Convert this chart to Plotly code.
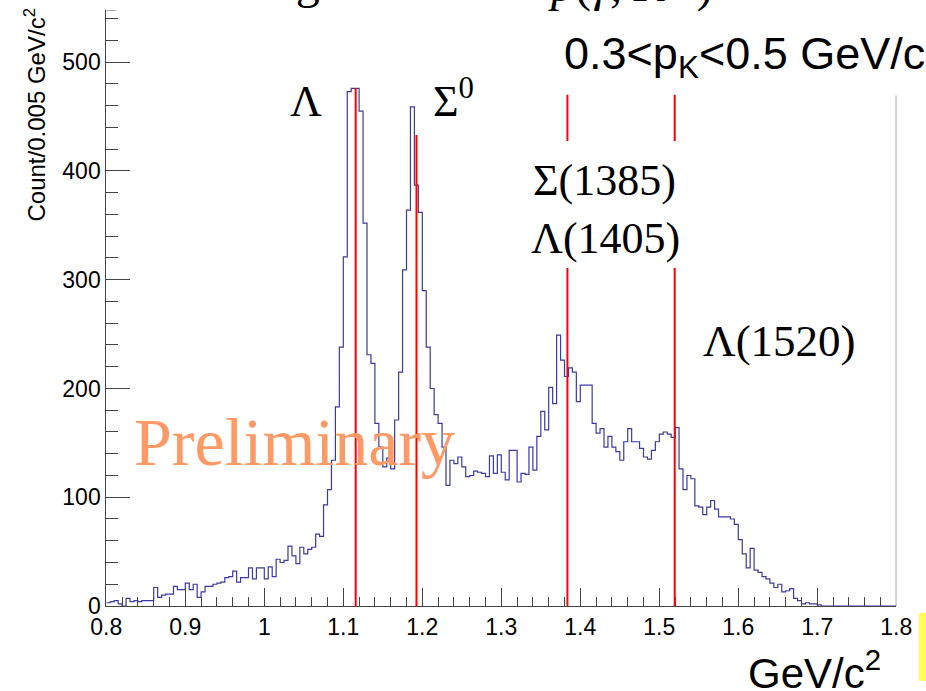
import plotly.graph_objects as go

W, H = 926, 691

# Missing-mass histogram: 200 bins of 0.005 GeV/c^2 between 0.8 and 1.8
bin_low = 0.8
bin_width = 0.005
counts = [
    3, 4, 5, 2, 0, 7, 4, 5, 4, 5,            # 0.80 - 0.85
    5, 5, 17, 8, 10, 11, 11, 18, 15, 15,     # 0.85 - 0.90
    21, 15, 20, 8, 13, 18, 18, 20, 21, 22,   # 0.90 - 0.95
    26, 27, 32, 22, 26, 26, 35, 25, 35, 35,  # 0.95 - 1.00
    25, 36, 27, 43, 40, 42, 55, 46, 39, 54,  # 1.00 - 1.05
    48, 52, 54, 66, 64, 93, 107, 134, 183, 238,      # 1.05 - 1.10
    321, 473, 476, 476, 455, 352, 231, 223, 168, 146,  # 1.10 - 1.15
    128, 136, 126, 171, 215, 309, 364, 459, 387, 362,  # 1.15 - 1.20
    290, 238, 200, 176, 168, 146, 111, 134, 131, 137,  # 1.20 - 1.25
    128, 119, 120, 124, 123, 122, 119, 138, 122, 139,  # 1.25 - 1.30
    123, 116, 143, 143, 114, 122, 121, 146, 125, 156,  # 1.30 - 1.35
    179, 162, 201, 186, 249, 226, 211, 219, 215, 188,  # 1.35 - 1.40
    203, 203, 203, 168, 159, 163, 146, 156, 146, 142,  # 1.40 - 1.45
    134, 151, 163, 151, 151, 145, 137, 135, 143, 151,  # 1.45 - 1.50
    158, 160, 158, 155, 164, 126, 107, 120, 117, 92,   # 1.50 - 1.55
    91, 84, 91, 97, 89, 82, 82, 82, 80, 75,            # 1.55 - 1.60
    61, 48, 35, 53, 33, 31, 27, 25, 21, 17,            # 1.60 - 1.65
    20, 13, 14, 16, 7, 5, 2, 3, 2, 2,                  # 1.65 - 1.70
    1, 0, 0, 0, 0, 0, 0, 0, 0, 0,                      # 1.70 - 1.75
    0, 0, 0, 0, 0, 0, 0, 0, 0, 0,                      # 1.75 - 1.80
]

# Hyperon masses marked with red lines (GeV/c^2) and how high each line reaches
line_masses = [1.11568, 1.19264, 1.3837, 1.5195]
line_tops = [476, 433, 470, 470]

x_range = [0.8, 1.8]
y_range = [0, 548]

edges = [round(bin_low + i * bin_width, 4) for i in range(len(counts) + 1)]
step_y = counts + [counts[-1]]

SANS = "Liberation Sans, Arial, sans-serif"
SERIF = "Liberation Serif, Times New Roman, serif"


def px(x):
    return x / W


def py(y):
    return 1 - y / H


fig = go.Figure()
fig.add_trace(go.Scatter(
    x=edges, y=step_y, mode="lines",
    line=dict(shape="hv", color="#3a3aa6", width=1.2),
    hoverinfo="skip", showlegend=False,
))

shapes = []
for m, top in zip(line_masses, line_tops):
    shapes.append(dict(type="line", xref="x", yref="y", x0=m, x1=m, y0=0, y1=top,
                       line=dict(color="#ff0000", width=2), layer="above"))
# white label box that hides the middle of the two right-hand lines
shapes.append(dict(type="rect", xref="paper", yref="paper",
                   x0=px(522), x1=px(690), y0=py(268), y1=py(141),
                   fillcolor="white", line=dict(width=0), layer="above"))
# right edge of the frame
shapes.append(dict(type="line", xref="x", yref="y", x0=1.8, x1=1.8, y0=0, y1=469.5,
                   line=dict(color="#444444", width=1), layer="above"))
# stub of the top edge of the frame
shapes.append(dict(type="line", xref="x", yref="y", x0=0.8, x1=0.8128, y0=548, y1=548,
                   line=dict(color="#555555", width=1), layer="above"))
# yellow marker strip at the lower right
shapes.append(dict(type="rect", xref="paper", yref="paper",
                   x0=px(919), x1=px(926), y0=py(681), y1=py(613),
                   fillcolor="#ffff55", line=dict(width=0), layer="above"))

annotations = [
    dict(text="Count/0.005 GeV/c<sup>2</sup>", x=px(35), y=py(7), xanchor="center",
         yanchor="top", textangle=-90, font=dict(family=SANS, size=24, color="black")),
    dict(text="Λ", x=px(306), y=py(101), font=dict(family=SERIF, size=44, color="black")),
    dict(text="Σ<sup>0</sup>", x=px(453), y=py(98), font=dict(family=SERIF, size=44, color="black")),
    dict(text="0.3<p<sub>K</sub><0.5 GeV/c", x=px(562), y=py(57), xanchor="left",
         font=dict(family=SANS, size=45, color="black")),
    dict(text="Σ(1385)", x=px(604), y=py(180), font=dict(family=SERIF, size=44, color="black")),
    dict(text="Λ(1405)", x=px(605), y=py(238), font=dict(family=SERIF, size=44, color="black")),
    dict(text="Λ(1520)", x=px(779), y=py(341), font=dict(family=SERIF, size=45, color="black")),
    dict(text="Preliminary", x=px(294), y=py(442), font=dict(family=SERIF, size=68, color="#ff9a66")),
    dict(text="GeV/c<sup>2</sup>", x=px(814), y=py(670), font=dict(family=SANS, size=42, color="black")),
    dict(text="Missing", x=px(322), y=py(-19), xanchor="right",
         font=dict(family=SERIF, size=48, color="black")),
    dict(text="<i>p</i>(<i>γ</i>, <i>K</i><sup>+</sup> )", x=px(546), y=py(-19), xanchor="left",
         font=dict(family=SERIF, size=48, color="black")),
]
for a in annotations:
    a.setdefault("xref", "paper")
    a.setdefault("yref", "paper")
    a.setdefault("showarrow", False)
    a.setdefault("xanchor", "center")
    a.setdefault("yanchor", "middle")

axis_line = "#444444"
fig.update_layout(
    width=W, height=H,
    margin=dict(l=0, r=0, t=0, b=0, autoexpand=False),
    paper_bgcolor="white", plot_bgcolor="white",
    shapes=shapes, annotations=annotations,
    xaxis=dict(
        domain=[px(106.3), px(896.3)], range=x_range, automargin=False,
        showline=True, linecolor=axis_line, linewidth=1, mirror=False,
        showgrid=False, zeroline=False,
        ticks="inside", ticklen=18, tickcolor=axis_line, tickwidth=1,
        tick0=0.8, dtick=0.1,
        minor=dict(ticks="inside", ticklen=9, dtick=0.02, tickcolor=axis_line, showgrid=False),
        tickfont=dict(family=SANS, size=23, color="black"),
        anchor="y",
    ),
    yaxis=dict(
        domain=[py(606), py(10)], range=y_range, automargin=False,
        showline=True, linecolor=axis_line, linewidth=1,
        showgrid=False, zeroline=False,
        ticks="inside", ticklen=24, tickcolor=axis_line, tickwidth=1,
        tick0=0, dtick=100,
        minor=dict(ticks="inside", ticklen=12, dtick=20, tickcolor=axis_line, showgrid=False),
        tickfont=dict(family=SANS, size=23, color="black"),
        anchor="x",
    ),
)

fig.write_html("out.html")
